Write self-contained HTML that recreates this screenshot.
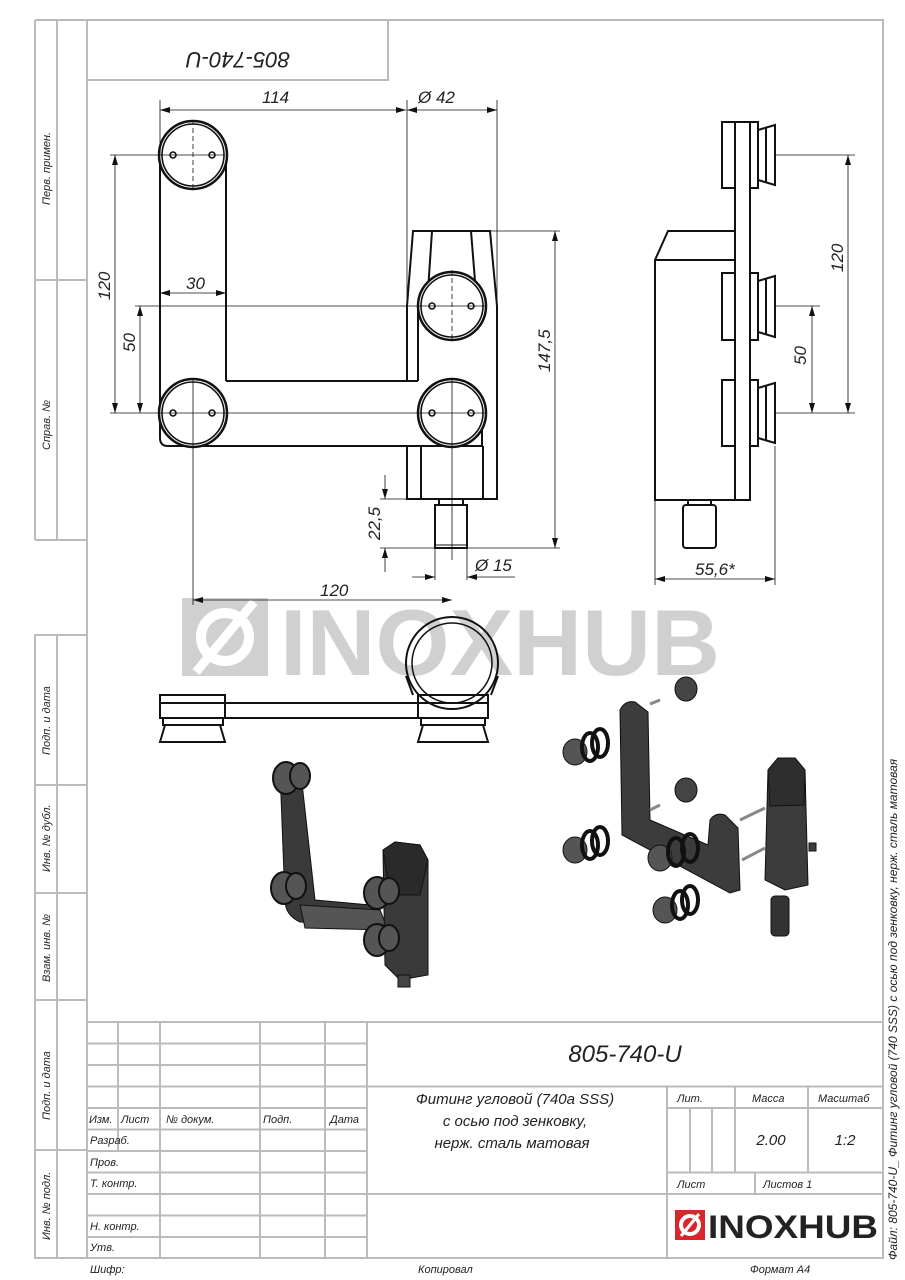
<!DOCTYPE html>
<html><head><meta charset="utf-8">
<style>
html,body{margin:0;padding:0;background:#fff;}
svg{display:block;}
text{font-family:"Liberation Sans Narrow","Liberation Sans","DejaVu Sans",sans-serif;font-style:italic;fill:#222;}
</style></head>
<body>
<svg width="905" height="1280" viewBox="0 0 905 1280" xmlns="http://www.w3.org/2000/svg">
<defs>
<marker id="a" viewBox="0 0 10 6" refX="10" refY="3" markerWidth="10" markerHeight="6" orient="auto-start-reverse" markerUnits="userSpaceOnUse"><path d="M0,0 L10,3 L0,6 z" fill="#111"/></marker>
</defs>
<!-- watermark -->
<g fill="#d0d0d0">
<rect x="182" y="598" width="86" height="78"/>
<text x="280" y="675" font-size="94" font-weight="bold" style="font-style:normal;font-family:'Liberation Sans',sans-serif;fill:#d0d0d0" textLength="440" lengthAdjust="spacingAndGlyphs">INOXHUB</text>
</g>
<circle cx="225" cy="637" r="24" fill="none" stroke="#fff" stroke-width="10"/>
<line x1="196" y1="672" x2="254" y2="602" stroke="#fff" stroke-width="9"/>
<!-- frame -->
<g stroke="#bbb" stroke-width="2" fill="none">
<rect x="87" y="20" width="796" height="1238"/>
<line x1="35" y1="20" x2="87" y2="20"/>
<line x1="35" y1="20" x2="35" y2="540"/>
<line x1="57" y1="20" x2="57" y2="540"/>
<line x1="35" y1="280" x2="87" y2="280"/>
<line x1="35" y1="540" x2="87" y2="540"/>
<rect x="35" y="635" width="52" height="623"/>
<line x1="57" y1="635" x2="57" y2="1258"/>
<line x1="35" y1="785" x2="87" y2="785"/>
<line x1="35" y1="893" x2="87" y2="893"/>
<line x1="35" y1="1000" x2="87" y2="1000"/>
<line x1="35" y1="1150" x2="87" y2="1150"/>
<rect x="87" y="20" width="301" height="60"/>
<line x1="87" y1="1022" x2="883" y2="1022"/>
<line x1="118" y1="1022" x2="118" y2="1151"/>
<line x1="160" y1="1022" x2="160" y2="1258"/>
<line x1="260" y1="1022" x2="260" y2="1258"/>
<line x1="325" y1="1022" x2="325" y2="1258"/>
<line x1="367" y1="1022" x2="367" y2="1258"/>
<line x1="87" y1="1043.5" x2="367" y2="1043.5"/>
<line x1="87" y1="1065" x2="367" y2="1065"/>
<line x1="87" y1="1086.5" x2="883" y2="1086.5"/>
<line x1="87" y1="1108" x2="367" y2="1108"/>
<line x1="87" y1="1129.5" x2="367" y2="1129.5"/>
<line x1="87" y1="1151" x2="367" y2="1151"/>
<line x1="87" y1="1172.5" x2="367" y2="1172.5"/>
<line x1="87" y1="1194" x2="883" y2="1194"/>
<line x1="87" y1="1215.5" x2="367" y2="1215.5"/>
<line x1="87" y1="1237" x2="367" y2="1237"/>
<line x1="667" y1="1086.5" x2="667" y2="1258"/>
<line x1="735" y1="1086.5" x2="735" y2="1172.5"/>
<line x1="808" y1="1086.5" x2="808" y2="1172.5"/>
<line x1="667" y1="1108" x2="883" y2="1108"/>
<line x1="667" y1="1172.5" x2="883" y2="1172.5"/>
<line x1="755" y1="1172.5" x2="755" y2="1194"/>
<line x1="690" y1="1108" x2="690" y2="1172.5"/>
<line x1="712" y1="1108" x2="712" y2="1172.5"/>
</g>
<g font-size="11">
<text transform="translate(50,205) rotate(-90)">Перв. примен.</text>
<text transform="translate(50,450) rotate(-90)">Справ. №</text>
<text transform="translate(50,755) rotate(-90)">Подп. и дата</text>
<text transform="translate(50,872) rotate(-90)">Инв. № дубл.</text>
<text transform="translate(50,982) rotate(-90)">Взам. инв. №</text>
<text transform="translate(50,1120) rotate(-90)">Подп. и дата</text>
<text transform="translate(50,1240) rotate(-90)">Инв. № подл.</text>
</g>
<text transform="translate(238,52) rotate(180)" font-size="22" text-anchor="middle">805-740-U</text>
<g font-size="11">
<text x="89" y="1123">Изм.</text><text x="121" y="1123">Лист</text><text x="166" y="1123">№ докум.</text><text x="263" y="1123">Подп.</text><text x="330" y="1123">Дата</text>
<text x="90" y="1144">Разраб.</text><text x="90" y="1166">Пров.</text><text x="90" y="1187">Т. контр.</text><text x="90" y="1230">Н. контр.</text><text x="90" y="1251">Утв.</text>
<text x="677" y="1102">Лит.</text><text x="752" y="1102">Масса</text><text x="818" y="1102">Масштаб</text>
<text x="677" y="1188">Лист</text><text x="763" y="1188">Листов 1</text>
<text x="90" y="1273">Шифр:</text><text x="418" y="1273">Копировал</text><text x="750" y="1273">Формат А4</text>
</g>
<text x="625" y="1062" font-size="24" text-anchor="middle">805-740-U</text>
<g font-size="15" text-anchor="middle">
<text x="515" y="1104">Фитинг угловой (740а SSS)</text>
<text x="515" y="1126">с осью под зенковку,</text>
<text x="512" y="1148">нерж. сталь матовая</text>
<text x="771" y="1145">2.00</text><text x="845" y="1145">1:2</text>
</g>
<text transform="translate(897,1260) rotate(-90)" font-size="12">Файл: 805-740-U_ Фитинг угловой (740 SSS) с осью под зенковку, нерж. сталь матовая</text>
<rect x="675" y="1210" width="30" height="30" fill="#d9262b"/>
<circle cx="690" cy="1225" r="9" fill="none" stroke="#fff" stroke-width="4"/>
<line x1="681" y1="1236" x2="699" y2="1214" stroke="#fff" stroke-width="3"/>
<text x="708" y="1238" font-size="32" font-weight="bold" style="font-style:normal;font-family:'Liberation Sans',sans-serif;fill:#222" textLength="170" lengthAdjust="spacingAndGlyphs">INOXHUB</text>

<!-- FRONT VIEW -->
<g stroke="#111" stroke-width="2" fill="none">
<path d="M160,155 L160,438 Q160,446 168,446 L482,446 L482,413"/>
<line x1="226" y1="155" x2="226" y2="381"/>
<line x1="226" y1="381" x2="418" y2="381"/>
<line x1="407" y1="306" x2="407" y2="381"/>
<line x1="418" y1="306" x2="418" y2="381"/>
<path d="M407,306 L413,231 L490,231 L497,306 L497,499 L407,499 L407,446"/>
<line x1="432" y1="231" x2="427" y2="306"/>
<line x1="471" y1="231" x2="477" y2="306"/>
<line x1="421" y1="446" x2="421" y2="499"/>
<line x1="483" y1="446" x2="483" y2="499"/>
<rect x="435" y="505" width="32" height="43"/>
<rect x="439" y="499" width="24" height="6"/>
<line x1="435" y1="545" x2="467" y2="545" stroke-width="1"/>
</g>
<g fill="#fff" stroke="#111" stroke-width="2.5">
<circle cx="193" cy="155" r="34"/><circle cx="193" cy="413" r="34"/>
<circle cx="452" cy="306" r="34"/><circle cx="452" cy="413" r="34"/>
</g>
<g fill="none" stroke="#111" stroke-width="1.6">
<circle cx="193" cy="155" r="31"/><circle cx="193" cy="413" r="31"/>
<circle cx="452" cy="306" r="31"/><circle cx="452" cy="413" r="31"/>
<circle cx="173" cy="155" r="3"/><circle cx="212" cy="155" r="3"/>
<circle cx="173" cy="413" r="3"/><circle cx="212" cy="413" r="3"/>
<circle cx="432" cy="306" r="3"/><circle cx="471" cy="306" r="3"/>
<circle cx="432" cy="413" r="3"/><circle cx="471" cy="413" r="3"/>
</g>
<g stroke="#111" stroke-width="0.8" fill="none">
<line x1="193" y1="120" x2="193" y2="190" stroke-dasharray="5,3"/>
<line x1="452" y1="270" x2="452" y2="340" stroke-dasharray="5,3"/>
<line x1="452" y1="380" x2="452" y2="560"/>
<line x1="193" y1="380" x2="193" y2="605"/>
<line x1="110" y1="155" x2="225" y2="155"/>
<line x1="110" y1="413" x2="485" y2="413"/>
<line x1="135" y1="306" x2="485" y2="306"/>
<line x1="160" y1="100" x2="160" y2="155"/>
<line x1="407" y1="100" x2="407" y2="306"/>
<line x1="497" y1="100" x2="497" y2="306"/>
<line x1="490" y1="231" x2="560" y2="231"/>
<line x1="467" y1="548" x2="560" y2="548"/>
<line x1="380" y1="499" x2="407" y2="499"/>
<line x1="380" y1="548" x2="435" y2="548"/>
<line x1="435" y1="548" x2="435" y2="580"/>
<line x1="467" y1="548" x2="467" y2="580"/>
<line x1="160" y1="110" x2="406" y2="110" marker-start="url(#a)" marker-end="url(#a)"/>
<line x1="407" y1="110" x2="497" y2="110" marker-start="url(#a)" marker-end="url(#a)"/>
<line x1="160" y1="293" x2="226" y2="293" marker-start="url(#a)" marker-end="url(#a)"/>
<line x1="115" y1="155" x2="115" y2="413" marker-start="url(#a)" marker-end="url(#a)"/>
<line x1="140" y1="306" x2="140" y2="413" marker-start="url(#a)" marker-end="url(#a)"/>
<line x1="555" y1="231" x2="555" y2="548" marker-start="url(#a)" marker-end="url(#a)"/>
<line x1="385" y1="475" x2="385" y2="499" marker-end="url(#a)"/>
<line x1="385" y1="548" x2="385" y2="572" marker-start="url(#a)"/>
<line x1="412" y1="577" x2="435" y2="577" marker-end="url(#a)"/>
<line x1="467" y1="577" x2="515" y2="577" marker-start="url(#a)"/>
<line x1="193" y1="600" x2="452" y2="600" marker-start="url(#a)" marker-end="url(#a)"/>
</g>
<g font-size="17">
<text x="262" y="103">114</text>
<text x="418" y="103">Ø 42</text>
<text x="186" y="289">30</text>
<text x="320" y="596">120</text>
<text x="475" y="571">Ø 15</text>
<text transform="translate(110,300) rotate(-90)">120</text>
<text transform="translate(135,352) rotate(-90)">50</text>
<text transform="translate(550,372) rotate(-90)">147,5</text>
<text transform="translate(380,540) rotate(-90)">22,5</text>
<text transform="translate(843,272) rotate(-90)">120</text>
<text transform="translate(806,365) rotate(-90)">50</text>
<text x="695" y="575">55,6*</text>
</g>

<!-- SIDE VIEW -->
<g stroke="#111" stroke-width="2" fill="none">
<path d="M655,260 L668,231 L735,231 L735,500 L655,500 Z"/>
<line x1="655" y1="260" x2="735" y2="260"/>
<rect x="735" y="122" width="15" height="378"/>
<rect x="683" y="505" width="33" height="43" rx="3"/>
<rect x="688" y="500" width="23" height="5"/>
<rect x="722" y="122" width="13" height="66"/><rect x="750" y="122" width="8" height="66"/><path d="M758,130 L775,125 L775,185 L758,180 Z"/><line x1="766" y1="127" x2="766" y2="183"/>
<rect x="722" y="273" width="13" height="67"/><rect x="750" y="273" width="8" height="67"/><path d="M758,281 L775,276 L775,337 L758,332 Z"/><line x1="766" y1="278" x2="766" y2="335"/>
<rect x="722" y="380" width="13" height="66"/><rect x="750" y="380" width="8" height="66"/><path d="M758,388 L775,383 L775,443 L758,438 Z"/><line x1="766" y1="385" x2="766" y2="441"/>
</g>
<g stroke="#111" stroke-width="0.8" fill="none">
<line x1="775" y1="155" x2="855" y2="155"/>
<line x1="775" y1="306" x2="820" y2="306"/>
<line x1="775" y1="413" x2="855" y2="413"/>
<line x1="848" y1="155" x2="848" y2="413" marker-start="url(#a)" marker-end="url(#a)"/>
<line x1="812" y1="306" x2="812" y2="413" marker-start="url(#a)" marker-end="url(#a)"/>
<line x1="655" y1="500" x2="655" y2="585"/>
<line x1="775" y1="446" x2="775" y2="585"/>
<line x1="655" y1="579" x2="775" y2="579" marker-start="url(#a)" marker-end="url(#a)"/>
</g>

<!-- BOTTOM VIEW -->
<g stroke="#111" stroke-width="2" fill="none">
<circle cx="452" cy="663" r="46"/>
<circle cx="452" cy="663" r="40" stroke-width="1.5"/>
<rect x="225" y="703" width="193" height="15"/>
<rect x="160" y="695" width="65" height="8"/><rect x="160" y="703" width="65" height="15"/><rect x="163" y="718" width="60" height="7"/>
<path d="M165,725 L160,742 L225,742 L220,725"/>
<rect x="418" y="695" width="70" height="8"/><rect x="418" y="703" width="70" height="15"/><rect x="421" y="718" width="64" height="7"/>
<path d="M423,725 L418,742 L488,742 L483,725"/>
<line x1="406" y1="676" x2="413" y2="695"/><line x1="498" y1="676" x2="491" y2="695"/>
</g>

<!-- 3D assembled -->
<g fill="#3a3a3a" stroke="#111" stroke-width="1">
<path d="M280,770 L300,765 L315,900 L370,905 L385,925 L300,922 Q285,915 285,900 Z"/>
<path d="M300,905 L380,910 L388,930 L305,928 Z" fill="#555"/>
<path d="M383,850 L395,842 L420,845 L428,860 L428,975 L400,980 L385,965 Z"/>
<path d="M383,850 L395,842 L420,845 L428,860 L420,895 L390,895 Z" fill="#2a2a2a"/>
<rect x="398" y="975" width="12" height="12" fill="#444"/>
</g>
<g fill="#555" stroke="#111" stroke-width="2">
<ellipse cx="286" cy="778" rx="13" ry="16"/><ellipse cx="300" cy="776" rx="10" ry="13"/>
<ellipse cx="284" cy="888" rx="13" ry="16"/><ellipse cx="296" cy="886" rx="10" ry="13"/>
<ellipse cx="377" cy="893" rx="13" ry="16"/><ellipse cx="389" cy="891" rx="10" ry="13"/>
<ellipse cx="377" cy="940" rx="13" ry="16"/><ellipse cx="389" cy="938" rx="10" ry="13"/>
</g>

<!-- 3D exploded -->
<g fill="#3c3c3c" stroke="#111" stroke-width="1">
<path d="M620,710 Q625,700 635,702 L648,712 L650,820 L708,845 L710,820 Q715,812 725,815 L738,828 L740,890 L730,893 L622,835 Z"/>
<path d="M768,770 L778,758 L795,758 L805,770 L808,885 L785,890 L765,880 Z"/>
<path d="M768,770 L778,758 L795,758 L805,770 L804,805 L770,806 Z" fill="#2e2e2e"/>
<rect x="771" y="896" width="18" height="40" rx="4" fill="#333"/>
<rect x="809" y="843" width="7" height="8"/>
<ellipse cx="686" cy="689" rx="11" ry="12" fill="#444"/>
<ellipse cx="686" cy="790" rx="11" ry="12" fill="#444"/>
<ellipse cx="575" cy="752" rx="12" ry="13" fill="#555"/>
<ellipse cx="575" cy="850" rx="12" ry="13" fill="#555"/>
<ellipse cx="660" cy="858" rx="12" ry="13" fill="#555"/>
<ellipse cx="665" cy="910" rx="12" ry="13" fill="#555"/>
</g>
<g fill="none" stroke="#111" stroke-width="4">
<ellipse cx="590" cy="747" rx="8" ry="14"/><ellipse cx="600" cy="743" rx="8" ry="14"/>
<ellipse cx="590" cy="845" rx="8" ry="14"/><ellipse cx="600" cy="841" rx="8" ry="14"/>
<ellipse cx="676" cy="852" rx="8" ry="14"/><ellipse cx="690" cy="848" rx="8" ry="14"/>
<ellipse cx="680" cy="905" rx="8" ry="14"/><ellipse cx="690" cy="900" rx="8" ry="14"/>
</g>
<g stroke="#888" stroke-width="3">
<line x1="650" y1="704" x2="660" y2="700"/><line x1="650" y1="810" x2="660" y2="805"/>
<line x1="740" y1="820" x2="765" y2="808"/><line x1="742" y1="860" x2="765" y2="848"/>
</g>
</svg>
</body></html>
